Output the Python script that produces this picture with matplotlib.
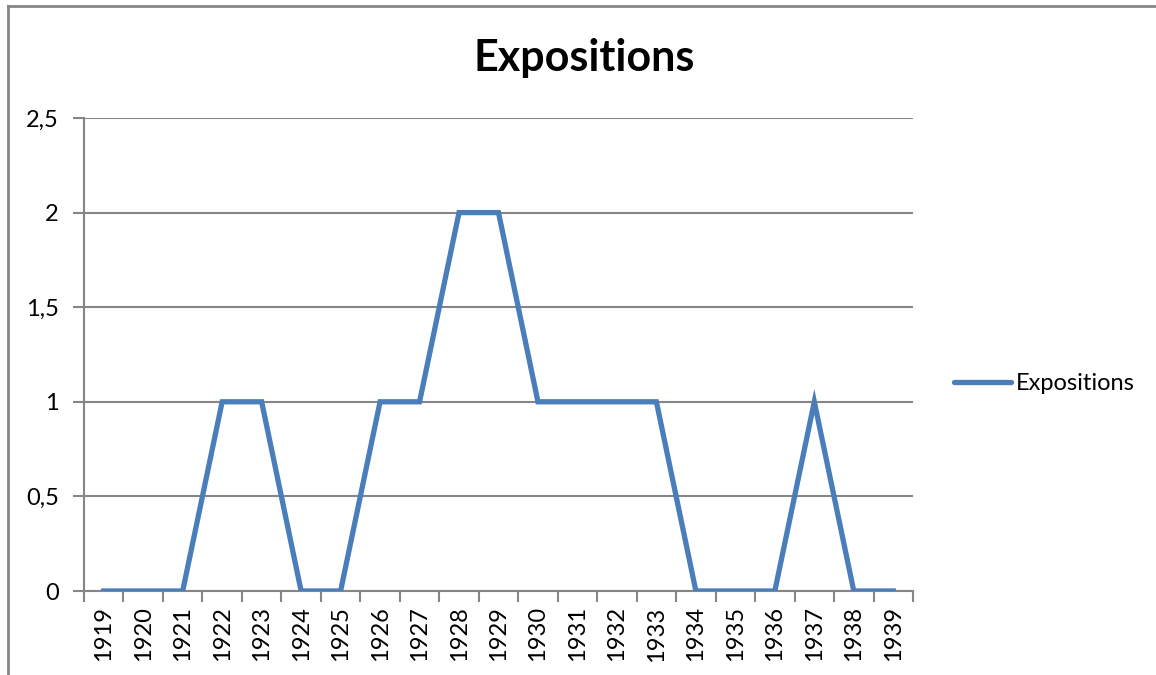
import matplotlib.pyplot as plt
from matplotlib.lines import Line2D
from matplotlib.ticker import FixedLocator, FuncFormatter

plt.rcParams['font.family'] = ['Lato', 'DejaVu Sans']

# Données
annees = [str(a) for a in range(1919, 1940)]
expositions = [0, 0, 0, 1, 1, 0, 0, 1, 1, 2, 2, 1, 1, 1, 1, 0, 0, 0, 1, 0, 0]
yticks = [0, 0.5, 1, 1.5, 2, 2.5]

gris = '#868686'
bleu = '#4A7EBB'

fig = plt.figure(figsize=(11.56, 6.75), dpi=100)
ax = fig.add_axes([84 / 1156, 1 - 591 / 675, (913 - 84) / 1156, (591 - 118) / 675])

x = list(range(len(annees)))
ax.plot(x, expositions, color=bleu, linewidth=3.8, solid_joinstyle='miter', label='Expositions', zorder=3)

ax.set_xlim(-0.5, len(annees) - 0.5)
ax.set_ylim(0, 2.5)
ax.set_xticks(x)
ax.set_xticklabels(annees, rotation=90, fontsize=17)
ax.xaxis.set_minor_locator(FixedLocator([i + 0.5 for i in range(-1, len(annees))]))
ax.tick_params(axis='x', which='major', length=0, pad=11)
ax.tick_params(axis='x', which='minor', length=8, width=1.5, color=gris)

ax.set_yticks(yticks)
ax.yaxis.set_major_formatter(FuncFormatter(lambda v, p: ('%g' % v).replace('.', ',')))
ax.tick_params(axis='y', length=8, width=1.5, color=gris, labelsize=17, pad=10)

ax.grid(axis='y', color=gris, linewidth=1.5)
ax.set_axisbelow(True)
for s in ['top', 'right']:
    ax.spines[s].set_visible(False)
for s in ['left', 'bottom']:
    ax.spines[s].set_color(gris)
    ax.spines[s].set_linewidth(1.5)

fig.suptitle('Expositions', x=584 / 1156, y=1 - 58 / 675, va='center',
             fontsize=31, fontweight='bold')

handle = Line2D([], [], color=bleu, linewidth=3.8, solid_capstyle='round')
fig.legend([handle], ['Expositions'], loc='center left', bbox_to_anchor=(933 / 1156, 1 - 384 / 675),
           frameon=False, fontsize=17, handlelength=2.4, handletextpad=0.2)

# cadre
fig.add_artist(Line2D([8 / 1156, 1], [1 - 6 / 675, 1 - 6 / 675], color=gris, linewidth=2))
fig.add_artist(Line2D([8 / 1156, 8 / 1156], [0, 1 - 6 / 675], color=gris, linewidth=2))

fig.savefig('out.png', dpi=100)
